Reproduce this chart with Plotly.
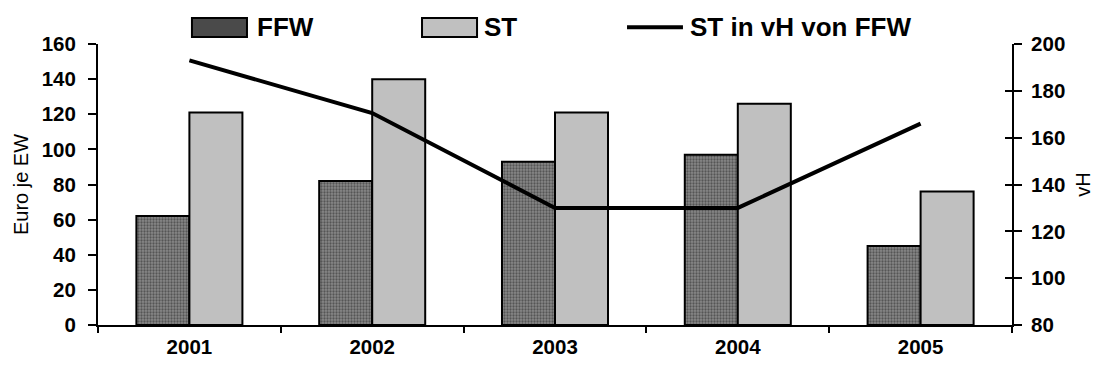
import plotly.graph_objects as go

years = ["2001", "2002", "2003", "2004", "2005"]
ffw = [62, 82, 93, 97, 45]
st = [121, 140, 121, 126, 76]
ratio = [193, 170.5, 130, 130, 166]
names = ["FFW", "ST", "ST in vH von FFW"]

FONT = "Liberation Sans, Arial"
fig = go.Figure()
fig.add_trace(go.Bar(
    x=years, y=ffw, name=names[0], showlegend=False,
    marker=dict(color="#555555", line=dict(color="black", width=2),
                pattern=dict(shape=".", fgcolor="#222222", bgcolor="#888888", size=3, solidity=0.45)),
))
fig.add_trace(go.Bar(
    x=years, y=st, name=names[1], showlegend=False,
    marker=dict(color="#c0c0c0", line=dict(color="black", width=2)),
))
fig.add_trace(go.Scatter(
    x=years, y=ratio, name=names[2], yaxis="y2", showlegend=False,
    mode="lines", line=dict(color="black", width=4),
))
fig.add_trace(go.Scatter(x=years, y=ratio, yaxis="y3", mode="lines",
                         line=dict(width=0), showlegend=False, hoverinfo="skip"))

tickfont = dict(family=FONT, size=20.5, color="black", weight="bold")
titlefont = dict(family=FONT, size=20, color="black")

fig.update_layout(
    width=1095, height=367,
    margin=dict(l=98, r=83, t=44, b=42, autoexpand=False),
    plot_bgcolor="white", paper_bgcolor="white",
    barmode="group", bargap=0.42, bargroupgap=0,
    showlegend=False,
    xaxis=dict(showline=True, linecolor="black", linewidth=2, ticks="outside",
               tickson="boundaries", ticklen=6, tickwidth=2, tickcolor="black",
               tickfont=tickfont, showgrid=False, ticklabelstandoff=2),
    yaxis=dict(range=[0, 160], dtick=20, showline=True, linecolor="black", linewidth=2,
               ticks="outside", ticklen=8, tickwidth=2, tickcolor="black",
               tickfont=tickfont, showgrid=False, zeroline=False, ticklabelstandoff=8,
               title=dict(text="Euro je EW", font=titlefont, standoff=8)),
    yaxis2=dict(range=[80, 200], dtick=20, overlaying="y", side="right",
                showline=True, linecolor="black", linewidth=2,
                ticks="outside", ticklen=8, tickwidth=2, tickcolor="black",
                tickfont=tickfont, showgrid=False, zeroline=False, ticklabelstandoff=5,
                title=dict(text="vH", font=titlefont, standoff=12)),
    yaxis3=dict(range=[80, 200], dtick=20, overlaying="y", side="right",
                ticks="inside", ticklen=7, tickwidth=2, tickcolor="black",
                showticklabels=False, showgrid=False, zeroline=False, showline=False),
)

# Manual legend (wide swatches like the original)
legfont = dict(family=FONT, size=26, color="black", weight="bold")
y0, y1, ymid = 1.025, 1.0925, 1.06
fig.add_shape(type="rect", xref="paper", yref="paper", x0=0.1028, x1=0.163, y0=y0, y1=y1,
              fillcolor="#4a4a4a", line=dict(color="black", width=2))
fig.add_shape(type="rect", xref="paper", yref="paper", x0=0.3545, x1=0.4147, y0=y0, y1=y1,
              fillcolor="#c0c0c0", line=dict(color="black", width=2))
fig.add_shape(type="line", xref="paper", yref="paper", x0=0.5788, x1=0.640, y0=ymid, y1=ymid,
              line=dict(color="black", width=4))
for xpos, txt in zip([0.1718, 0.4201, 0.6455], names):
    fig.add_annotation(xref="paper", yref="paper", x=xpos, y=ymid, text=txt, showarrow=False,
                       xanchor="left", yanchor="middle", font=legfont)

fig.write_html("out.html")
